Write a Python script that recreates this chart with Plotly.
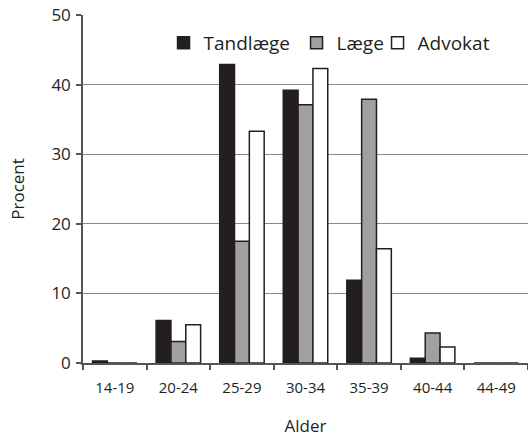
import plotly.graph_objects as go

categories = ["14-19", "20-24", "25-29", "30-34", "35-39", "40-44", "44-49"]
tandlaege = [0.3, 6.1, 42.9, 39.2, 11.9, 0.7, 0]
laege = [0, 3.1, 17.5, 37.1, 37.9, 4.3, 0]
advokat = [0, 5.5, 33.3, 42.3, 16.4, 2.3, 0]

series = [
    ("Tandlæge", tandlaege, "#231f20", 88),
    ("Læge", laege, "#a0a0a0", 36),
    ("Advokat", advokat, "#ffffff", 75),
]

FONT = "Open Sans"

fig = go.Figure()
for name, vals, color, lw in series:
    fig.add_trace(go.Bar(
        name=name, x=categories, y=vals, legendwidth=lw,
        marker=dict(color=color, line=dict(color="#231f20", width=1.5)),
    ))

fig.update_layout(
    width=528, height=438,
    margin=dict(l=83, r=0, t=15, b=75, autoexpand=False),
    paper_bgcolor="white", plot_bgcolor="white",
    barmode="group", bargap=0.3, bargroupgap=0,
    font=dict(family=FONT, color="#231f20", size=15),
    showlegend=True,
    legend=dict(
        orientation="h", x=0.181, y=0.92, xanchor="left", yanchor="middle",
        font=dict(size=19, family=FONT, color="#231f20"),
        bgcolor="rgba(0,0,0,0)", itemwidth=30, traceorder="normal",
    ),
    xaxis=dict(
        type="category", tickson="boundaries", ticks="outside", ticklen=5,
        tickcolor="#555", tickwidth=1.5, automargin=True,
        showline=True, linecolor="#555", linewidth=1.5,
        showgrid=False, tickfont=dict(size=15), ticklabelstandoff=10,
        title=dict(text="Alder", font=dict(size=17), standoff=24),
    ),
    yaxis=dict(
        range=[0, 50], dtick=10, ticks="outside", ticklen=5,
        tickcolor="#555", tickwidth=1.5, automargin=False,
        showline=True, linecolor="#555", linewidth=1.5,
        showgrid=True, gridcolor="#8a8a8a", gridwidth=1.2,
        zeroline=False, tickfont=dict(size=17), ticklabelstandoff=2,
        title=dict(text="Procent", font=dict(size=17), standoff=22),
    ),
)

fig.write_html("out.html", config={"displayModeBar": False},
               post_script="document.body.style.margin='0';document.body.style.padding='0';")
